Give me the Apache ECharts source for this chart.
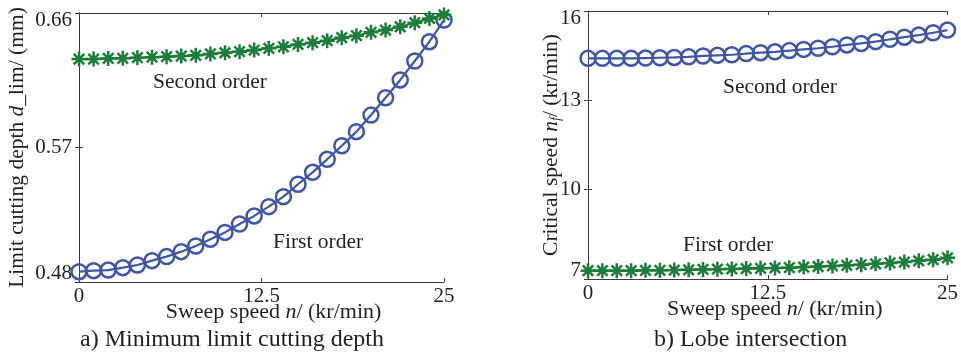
<!DOCTYPE html>
<html>
<head>
<meta charset="utf-8">
<script src="https://cdn.jsdelivr.net/npm/echarts@6/dist/echarts.min.js"></script>
<style>
  html, body { margin: 0; padding: 0; background: #fff; }
  #chart { width: 961px; height: 354px; }
</style>
</head>
<body>
<div id="chart"></div>
<script>
// sweep speed n (kr/min), one sample per 1 kr/min
const sweepSpeed = [0, 1, 2, 3, 4, 5, 6, 7, 8, 9, 10, 11, 12, 13, 14, 15, 16, 17, 18, 19, 20, 21, 22, 23, 24, 25];
const xTicks = [0, 12.5, 25];

// a) minimum limit cutting depth (mm)
const depthFirst = [0.4869, 0.4876, 0.4880, 0.4896, 0.4914, 0.4943, 0.4970, 0.5003, 0.5041, 0.5086, 0.5132, 0.5188, 0.5242,
  0.5304, 0.5371, 0.5454, 0.5534, 0.5621, 0.5712, 0.5806, 0.5917, 0.6033, 0.6152, 0.6279, 0.6408, 0.6553];
const depthSecond = [0.6292, 0.6292, 0.6296, 0.6297, 0.6301, 0.6304, 0.6308, 0.6312, 0.6317, 0.6326, 0.6334, 0.6341, 0.6352,
  0.6364, 0.6374, 0.6390, 0.6401, 0.6415, 0.6435, 0.6448, 0.6471, 0.6486, 0.6508, 0.6535, 0.6564, 0.6587];
const depthTicks = [0.48, 0.57, 0.66];

// b) lobe intersection, critical speed (kr/min)
const critSecond = [14.41, 14.41, 14.41, 14.41, 14.42, 14.43, 14.44, 14.46, 14.49, 14.51, 14.53, 14.57, 14.60,
  14.63, 14.67, 14.71, 14.75, 14.80, 14.86, 14.91, 14.97, 15.05, 15.12, 15.19, 15.27, 15.36];
const critFirst = [7.28, 7.28, 7.28, 7.28, 7.29, 7.29, 7.30, 7.31, 7.32, 7.33, 7.34, 7.35, 7.36,
  7.37, 7.38, 7.40, 7.42, 7.44, 7.46, 7.48, 7.51, 7.54, 7.57, 7.61, 7.65, 7.71];
const critTicks = [7, 10, 13, 16];

const FONT = '"Liberation Serif", "Times New Roman", serif';
const INK = '#231f20';
const FRAME = '#3a3a3a';
const BLUE = '#3d56aa';
const GREEN = '#1b7d38';
const STAR = 'path://M0,-10L0,10M-10,0L10,0M-7,-7L7,7M-7,7L7,-7';

const pair = ys => sweepSpeed.map((x, i) => [x, ys[i]]);

function yLabelFmt(ticks) {
  const lo = ticks[0], hi = ticks[ticks.length - 1];
  return v => {
    const t = ticks.find(k => Math.abs(k - v) < 1e-6);
    if (t === undefined) return '';
    if (t === hi) return '{hi|' + t + '}';
    if (t === lo) return '{lo|' + t + '}';
    return '{m|' + t + '}';
  };
}
const yRich = {
  hi: { fontFamily: FONT, fontSize: 21, color: INK, padding: [14, 0, 0, 0] },
  lo: { fontFamily: FONT, fontSize: 21, color: INK, padding: [0, 0, 18, 0] },
  m: { fontFamily: FONT, fontSize: 21, color: INK }
};

function xAxes(gridIndex, shift) {
  return [
    {
      gridIndex, type: 'value', min: 0, max: 25, interval: 12.5, position: 'bottom',
      axisLine: { show: true, lineStyle: { color: FRAME, width: 1 } },
      axisTick: { show: true, inside: true, length: 4, lineStyle: { color: FRAME } },
      splitLine: { show: false },
      axisLabel: {
        margin: 4, color: INK, fontFamily: FONT, fontSize: 21,
        formatter: v => (xTicks.indexOf(v) >= 0 ? String(v) : '')
      },
      name: '{r|Sweep speed }{i|n}{r|/ (kr/min)}',
      nameLocation: 'middle', nameGap: 19, nameMoveOverlap: false,
      nameTextStyle: {
        padding: [0, 0, 0, shift],
        rich: {
          r: { fontFamily: FONT, fontSize: 22, color: INK },
          i: { fontFamily: FONT, fontSize: 22, color: INK, fontStyle: 'italic' }
        }
      }
    },
    {
      gridIndex, type: 'value', min: 0, max: 25, interval: 12.5, position: 'top',
      axisLine: { show: true, lineStyle: { color: FRAME, width: 1 } },
      axisTick: { show: true, inside: true, length: 4, lineStyle: { color: FRAME } },
      axisLabel: { show: false }, splitLine: { show: false }
    }
  ];
}

function yAxes(gridIndex, min, max, interval, ticks, name, nameGap) {
  return [
    {
      gridIndex, type: 'value', min, max, interval, position: 'left',
      axisLine: { show: true, lineStyle: { color: FRAME, width: 1 } },
      axisTick: { show: true, inside: true, length: 4, lineStyle: { color: FRAME } },
      splitLine: { show: false },
      axisLabel: { margin: 7, formatter: yLabelFmt(ticks), rich: yRich },
      name, nameLocation: 'middle', nameGap, nameRotate: 90, nameMoveOverlap: false,
      nameTextStyle: {
        rich: {
          r: { fontFamily: FONT, fontSize: 21.5, color: INK },
          i: { fontFamily: FONT, fontSize: 21.5, color: INK, fontStyle: 'italic' },
          s: { fontFamily: FONT, fontSize: 14, color: INK, fontStyle: 'italic', padding: [10, 0, 0, 0] }
        }
      }
    },
    {
      gridIndex, type: 'value', min, max, interval, position: 'right',
      axisLine: { show: true, lineStyle: { color: FRAME, width: 1 } },
      axisTick: { show: true, inside: true, length: 4, lineStyle: { color: FRAME } },
      axisLabel: { show: false }, splitLine: { show: false }
    }
  ];
}

function circleSeries(xi, yi, data) {
  return {
    type: 'line', xAxisIndex: xi, yAxisIndex: yi, data: pair(data), clip: false,
    symbol: 'circle', symbolSize: 15,
    lineStyle: { color: BLUE, width: 2.2 },
    itemStyle: { color: 'rgba(0,0,0,0)', borderColor: BLUE, borderWidth: 2.5 },
    emphasis: { disabled: true }, animation: false, z: 3
  };
}
function starSeries(xi, yi, data) {
  return {
    type: 'line', xAxisIndex: xi, yAxisIndex: yi, data: pair(data), clip: false,
    symbol: STAR, symbolSize: 15,
    lineStyle: { color: GREEN, width: 2.2 },
    itemStyle: { color: 'rgba(0,0,0,0)', borderColor: GREEN, borderWidth: 2.5 },
    emphasis: { disabled: true }, animation: false, z: 4
  };
}

function txt(x, y, s, size) {
  return {
    type: 'text', x, y, silent: true,
    style: { text: s, fontFamily: FONT, fontSize: size || 21.5, fill: INK, textAlign: 'left', textVerticalAlign: 'middle' }
  };
}

const chart = echarts.init(document.getElementById('chart'), null, { renderer: 'canvas' });
chart.setOption({
  animation: false,
  backgroundColor: '#fff',
  grid: [
    { left: 79, top: 13, width: 365, height: 269 },
    { left: 588, top: 11, width: 365, height: 268 }
  ],
  xAxis: [...xAxes(0, 24), ...xAxes(1, 14)],
  yAxis: [
    ...yAxes(0, 0.48, 0.66, 0.09, depthTicks,
      '{r|Limit cutting depth }{i|d}{r|_lim/ (mm)}', 51),
    ...yAxes(1, 7, 16, 3, critTicks,
      '{r|Critical speed }{i|n}{s|f}{r|/ (kr/min)}', 25)
  ],
  series: [
    circleSeries(0, 0, depthFirst),
    starSeries(0, 0, depthSecond),
    circleSeries(2, 2, critSecond),
    starSeries(2, 2, critFirst)
  ],
  graphic: [
    txt(153, 82, 'Second order'),
    txt(273, 242, 'First order'),
    txt(723, 87, 'Second order'),
    txt(683, 245, 'First order'),
    txt(80, 340, 'a) Minimum limit cutting depth', 24),
    txt(654, 340, 'b) Lobe intersection', 24)
  ]
});
</script>
</body>
</html>
